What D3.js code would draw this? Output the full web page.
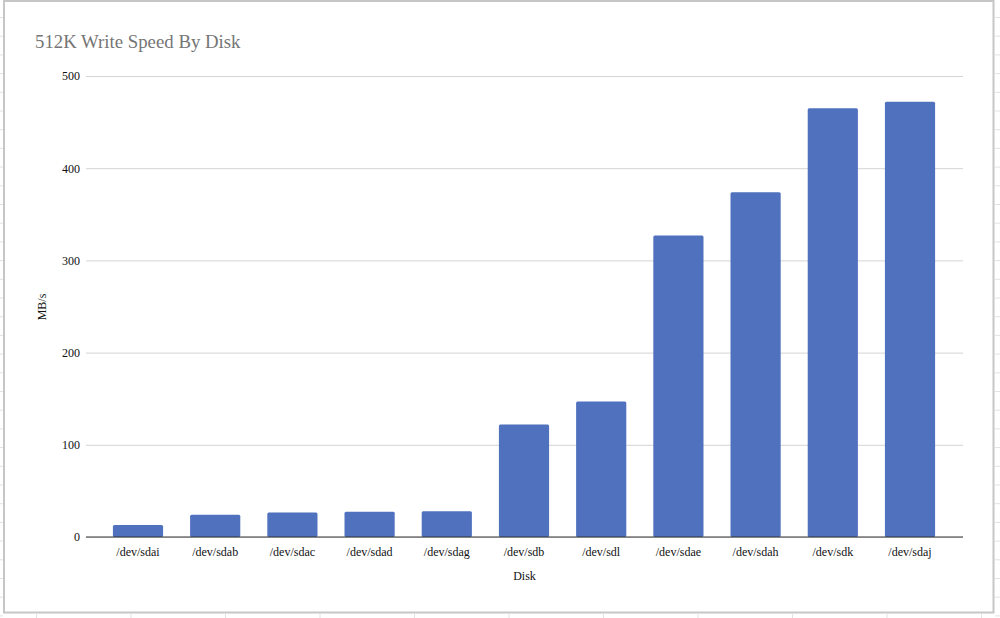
<!DOCTYPE html>
<html><head><meta charset="utf-8">
<script src="https://cdn.jsdelivr.net/npm/d3@7"></script>
<style>html,body{margin:0;padding:0;background:#fff;}svg{display:block;}</style>
</head><body>
<svg id="c" width="1000" height="618"></svg>
<script>
const categories = ["/dev/sdai","/dev/sdab","/dev/sdac","/dev/sdad","/dev/sdag","/dev/sdb","/dev/sdl","/dev/sdae","/dev/sdah","/dev/sdk","/dev/sdaj"];
const speeds = [13, 24, 26.5, 27.5, 28, 122, 147, 327, 374, 465, 472];
const yTicks = [0, 100, 200, 300, 400, 500];
const title = "512K Write Speed By Disk";
const xTitle = "Disk";
const yTitle = "MB/s";

const svg = d3.select("#c");
const font = "'Liberation Serif', 'Times New Roman', serif";

// spreadsheet grid behind the chart frame
const gridG = svg.append("g").attr("stroke", "#e2e2e2").attr("stroke-width", 1);
d3.range(17.5, 618, 18.7).forEach(yy => {
  gridG.append("line").attr("x1", 0).attr("x2", 3).attr("y1", yy).attr("y2", yy);
  gridG.append("line").attr("x1", 995).attr("x2", 1000).attr("y1", yy).attr("y2", yy);
});
d3.range(36.5, 1000, 94.5).forEach(xx => {
  gridG.append("line").attr("x1", xx).attr("x2", xx).attr("y1", 614).attr("y2", 618);
});

// chart frame
svg.append("rect").attr("x", 4).attr("y", 1).attr("width", 989.5).attr("height", 611.5)
  .attr("fill", "#fff").attr("stroke", "#c6c6c6").attr("stroke-width", 2);

const plotL = 86, plotR = 963;
const y = d3.scaleLinear().domain([0, 500]).range([537, 76]);
const x = d3.scaleBand().domain(categories).range([99.4, 948.6]).paddingInner(0.35).paddingOuter(0.175);

// gridlines
const yAxis = d3.axisLeft(y).tickValues(yTicks).tickSize(-(plotR - plotL)).tickPadding(6).tickFormat(d3.format("d"));
const gy = svg.append("g").attr("transform", `translate(${plotL},0)`).call(yAxis);
gy.select(".domain").remove();
gy.selectAll(".tick line").attr("stroke", "#d4d4d4").attr("stroke-width", 1);
gy.selectAll(".tick text").attr("font-family", font).attr("font-size", 12).attr("fill", "#111").attr("x", -6);

// bars
svg.append("g").selectAll("rect").data(categories).join("rect")
  .attr("x", d => x(d))
  .attr("y", (d, i) => y(speeds[i]))
  .attr("width", x.bandwidth())
  .attr("height", (d, i) => y(0) - y(speeds[i]))
  .attr("rx", 1.5)
  .attr("fill", "#4f71be");

// baseline
svg.append("line").attr("x1", plotL).attr("x2", plotR).attr("y1", y(0)).attr("y2", y(0))
  .attr("stroke", "#333").attr("stroke-width", 1.2);

// x axis labels
const xAxis = d3.axisBottom(x).tickSize(0).tickPadding(10);
const gx = svg.append("g").attr("transform", `translate(0,${y(0)})`).call(xAxis);
gx.select(".domain").remove();
gx.selectAll(".tick text").attr("font-family", font).attr("font-size", 12).attr("fill", "#111");

// titles
svg.append("text").attr("x", 35).attr("y", 48).text(title)
  .attr("font-family", font).attr("font-size", 18.8).attr("fill", "#757575");
svg.append("text").attr("x", (plotL + plotR) / 2 + 0).attr("y", 580).attr("text-anchor", "middle").text(xTitle)
  .attr("font-family", font).attr("font-size", 12).attr("fill", "#111");
svg.append("text").attr("transform", "translate(46,307) rotate(-90)").attr("text-anchor", "middle").text(yTitle)
  .attr("font-family", font).attr("font-size", 12).attr("fill", "#111");
</script>
</body></html>
